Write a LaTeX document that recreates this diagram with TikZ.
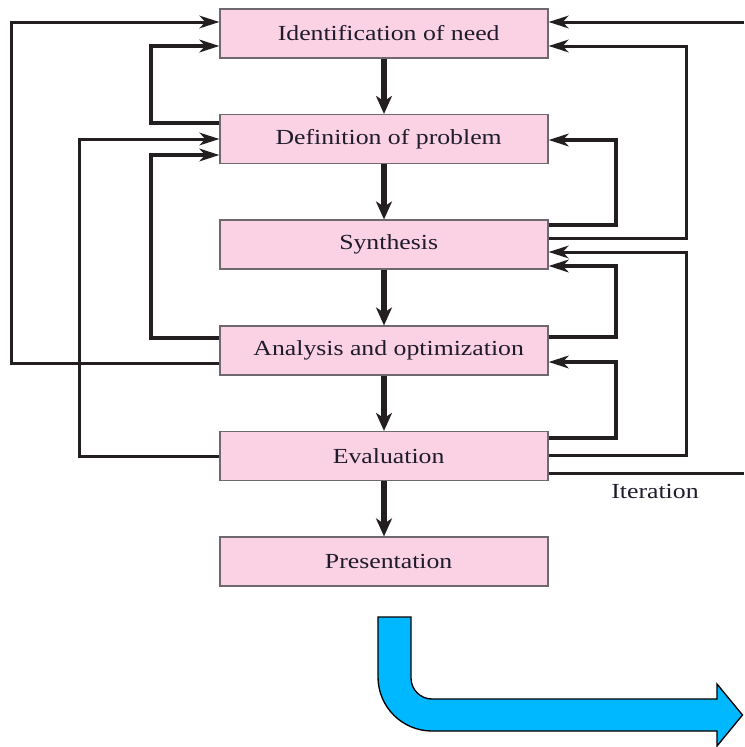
\documentclass[tikz,border=0pt]{standalone}
\usepackage{fontspec}
\setmainfont{Liberation Serif}[FakeStretch=1.2]
\usetikzlibrary{arrows.meta}
\definecolor{boxpink}{RGB}{250,210,227}
\definecolor{boxedge}{RGB}{110,105,110}
\definecolor{ink}{RGB}{35,31,32}
\definecolor{txt}{RGB}{30,27,45}
\definecolor{flowblue}{RGB}{0,184,255}
\newcommand{\stagetext}[1]{\hspace*{7pt}#1}
\tikzset{
  stage/.style={draw=boxedge, line width=0.9pt, fill=boxpink,
    minimum width=246pt, minimum height=36.75pt, inner sep=0pt,
    font=\fontsize{16.1}{18}\selectfont, text=txt},
  thinloop/.style={draw=ink, line width=2.25pt,
    -{Stealth[length=15pt,width=9.5pt,inset=4.5pt]}},
  thickloop/.style={thinloop, line width=3.6pt},
  plainline/.style={draw=ink, line width=2.25pt},
  downflow/.style={draw=ink, line width=4pt,
    -{Stealth[length=13.5pt,width=12pt,inset=4pt]}},
  steplabel/.style={font=\fontsize{16.1}{18}\selectfont, text=txt, inner sep=0pt}
}
\begin{document}
\begin{tikzpicture}[x=0.75pt, y=-0.75pt]
\useasboundingbox (0,0) rectangle (744,747);

% design stages
\node[stage] (id)  at (384,33.5)  {\stagetext{Identification of need}};
\node[stage] (def) at (384,139)   {\stagetext{Definition of problem}};
\node[stage] (syn) at (384,244.5) {\stagetext{Synthesis}};
\node[stage] (ana) at (384,350.5) {\stagetext{Analysis and optimization}};
\node[stage] (eva) at (384,456)   {\stagetext{Evaluation}};
\node[stage] (pre) at (384,561.5) {\stagetext{Presentation}};

% main downward flow
\draw[downflow] (id)  -- (def);
\draw[downflow] (def) -- (syn);
\draw[downflow] (syn) -- (ana);
\draw[downflow] (ana) -- (eva);
\draw[downflow] (eva) -- (pre);

% feedback loops on the left
\draw[thinloop]  (ana.west |- 0,363) -| (11,22)  -- (id.west |- 0,22);
\draw[thickloop] (def.west |- 0,123) -| (151,46) -- (id.west |- 0,46);
\draw[thinloop]  (eva.west |- 0,456) -| (79,139) -- (def.west |- 0,139);
\draw[thickloop] (ana.west |- 0,338) -| (151,155) -- (def.west |- 0,155);

% feedback loops on the right
\coordinate (outerin) at (744,22);
\draw[thinloop]  (outerin) -- (id.east |- outerin);
\draw[thinloop]  (syn.east |- 0,238) -| (686,46)  -- (id.east |- 0,46);
\draw[thickloop] (syn.east |- 0,225) -| (616,140) -- (def.east |- 0,140);
\draw[thinloop]  (eva.east |- 0,455) -| (686,252) -- (syn.east |- 0,252);
\draw[thickloop] (ana.east |- 0,337) -| (616,266) -- (syn.east |- 0,266);
\draw[thickloop] (eva.east |- 0,438) -| (616,362) -- (ana.east |- 0,362);

% iteration exit
\coordinate (iterout) at (744,473);
\draw[plainline] (eva.east |- iterout) -- (iterout);
\node[steplabel] (iterlbl) at (655,491) {Iteration};

% bent block arrow
\draw[fill=flowblue, draw=black, line width=1pt, line join=miter]
  (378,617) -- (378,677)
  .. controls (378,706.8) and (402.2,731) .. (432,731)
  -- (717,731) -- (717,746) -- (742.5,715) -- (717,684) -- (717,699)
  -- (432,699)
  .. controls (420.4,699) and (411,689.6) .. (411,678)
  -- (411,617) -- cycle;
\end{tikzpicture}
\end{document}
